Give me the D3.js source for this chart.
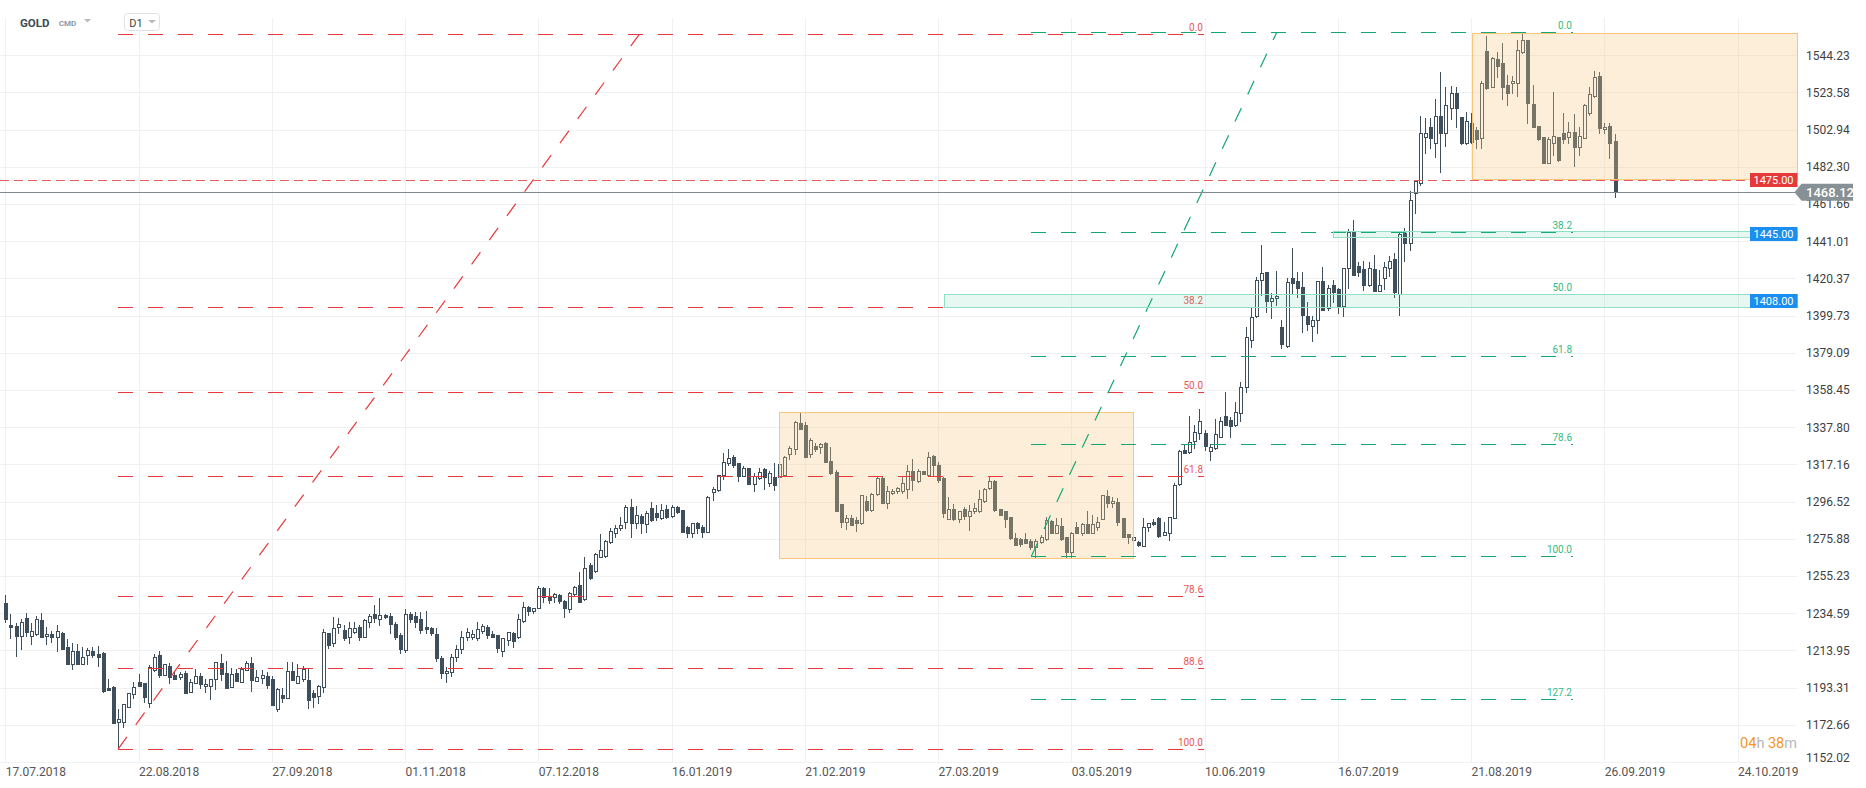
<!DOCTYPE html>
<html>
<head>
<meta charset="utf-8">
<script src="https://cdn.jsdelivr.net/npm/d3@7"></script>
<style>
html, body { margin: 0; padding: 0; background: #fff; }
svg { display: block; font-family: Roboto, "Noto Sans", sans-serif; }
</style>
</head>
<body>
<svg id="goldChart"></svg>
<script>
var width = 1866;
var height = 788;

// daily candles, GOLD D1, index 0 = 17.07.2018
var opens = [
1240.1,1228.0,1227.5,1222.0,1231.7,1222.0,1223.0,1230.8,1221.8,1222.9,
1221.2,1223.4,1215.6,1206.6,1213.6,1206.6,1211.6,1213.6,1212.0,1212.7,
1193.3,1193.5,1174.4,1174.0,1182.3,1189.6,1196.2,1195.7,1184.6,1203.1,
1211.2,1200.1,1205.1,1200.5,1199.4,1201.4,1190.7,1195.7,1199.7,1194.0,
1194.2,1197.9,1206.8,1201.2,1193.8,1201.2,1196.6,1202.9,1206.8,1197.2,
1198.6,1199.7,1197.9,1181.4,1189.2,1187.7,1202.5,1196.1,1198.3,1197.5,
1190.5,1188.8,1193.5,1223.4,1217.9,1226.8,1225.3,1221.2,1224.4,1227.1,
1221.2,1229.5,1234.0,1231.2,1233.6,1233.0,1228.6,1222.5,1214.0,1233.9,
1233.0,1231.2,1227.1,1226.2,1223.0,1209.5,1201.5,1202.0,1210.5,1214.5,
1221.2,1221.2,1220.6,1224.9,1227.1,1222.8,1222.5,1213.5,1219.7,1223.4,
1221.6,1230.4,1238.2,1236.0,1237.3,1248.4,1244.1,1243.8,1244.7,1241.3,
1236.7,1245.1,1250.2,1242.3,1261.3,1258.2,1265.9,1266.3,1274.3,1279.3,
1281.7,1285.4,1293.3,1284.8,1288.5,1283.9,1292.8,1290.0,1287.2,1292.2,
1288.7,1293.3,1291.9,1282.2,1278.9,1284.4,1282.2,1279.8,1301.7,1303.0,
1311.1,1317.7,1321.1,1317.7,1310.9,1315.0,1306.1,1309.4,1314.6,1307.0,
1310.0,1310.4,1311.3,1322.8,1325.5,1340.0,1339.0,1322.8,1327.4,1326.6,
1329.2,1319.2,1313.1,1295.2,1285.4,1287.2,1286.3,1284.4,1297.0,1291.9,
1300.7,1309.8,1295.5,1301.1,1302.4,1302.6,1303.3,1313.7,1308.1,1313.5,
1311.3,1321.8,1316.8,1309.8,1286.7,1292.2,1286.7,1292.2,1288.5,1291.3,
1291.3,1296.8,1303.9,1308.0,1292.2,1291.3,1287.8,1276.1,1275.7,1275.6,
1274.8,1271.1,1274.3,1275.6,1285.9,1279.3,1283.0,1276.7,1268.7,1282.2,
1279.3,1283.9,1279.3,1282.6,1286.7,1299.6,1295.5,1296.1,1287.2,1278.5,
1275.2,1274.3,1272.0,1282.2,1285.4,1287.2,1278.0,1278.9,1287.2,1306.1,
1325.2,1323.9,1330.0,1334.4,1334.4,1324.4,1326.0,1332.5,1343.8,1341.8,
1339.0,1345.5,1359.9,1386.1,1399.7,1419.4,1423.7,1408.0,1409.3,1393.2,
1382.8,1420.4,1418.9,1415.6,1399.6,1394.2,1397.1,1418.9,1403.8,1416.7,
1414.3,1405.0,1426.0,1446.7,1427.2,1425.6,1416.7,1425.6,1413.4,1420.4,
1426.0,1431.1,1411.7,1445.4,1439.8,1467.9,1473.5,1499.0,1504.2,1495.7,
1510.7,1500.9,1515.1,1523.0,1510.1,1495.3,1506.8,1502.7,1498.1,1546.5,
1526.7,1541.9,1539.7,1527.7,1528.6,1528.6,1545.8,1552.6,1517.1,1504.9,
1498.6,1484.6,1495.7,1498.6,1500.9,1498.6,1501.4,1493.5,1498.4,1512.3,
1521.8,1532.7,1503.1,1504.9,1496.6];

var highs = [
1244.5,1234.0,1229.0,1231.4,1234.5,1229.0,1232.8,1234.5,1226.7,1224.7,
1227.9,1224.0,1220.1,1217.9,1217.3,1215.6,1215.5,1216.0,1216.4,1213.1,
1198.0,1194.2,1181.4,1184.2,1190.5,1196.2,1200.7,1196.0,1205.8,1212.0,
1213.4,1206.2,1206.8,1202.1,1202.1,1202.7,1198.1,1203.6,1201.2,1197.9,
1198.3,1207.3,1211.9,1208.1,1204.0,1203.4,1204.9,1208.1,1210.5,1203.1,
1203.1,1202.1,1199.9,1193.1,1192.9,1207.3,1207.3,1206.2,1205.3,1203.8,
1192.0,1194.8,1225.8,1223.8,1232.3,1231.9,1227.9,1229.7,1229.7,1227.9,
1231.2,1234.0,1239.1,1242.8,1233.9,1234.9,1229.5,1223.5,1236.9,1235.4,
1235.0,1235.4,1235.8,1227.1,1226.2,1211.0,1204.5,1212.0,1217.0,1224.9,
1226.2,1225.3,1229.5,1228.4,1228.0,1224.7,1222.5,1221.0,1224.3,1224.0,
1234.0,1241.0,1238.8,1237.6,1249.7,1249.3,1248.4,1246.0,1245.2,1241.9,
1246.5,1249.9,1257.3,1266.0,1262.2,1267.8,1278.5,1275.2,1281.7,1283.5,
1288.2,1294.6,1297.8,1294.1,1289.6,1291.5,1296.5,1294.6,1295.0,1294.6,
1294.6,1294.1,1291.9,1283.0,1284.8,1285.4,1283.5,1299.6,1304.8,1311.1,
1323.3,1325.5,1322.4,1318.1,1316.3,1315.0,1312.2,1315.0,1315.0,1313.5,
1317.8,1317.8,1321.8,1327.4,1341.2,1345.9,1340.9,1331.6,1329.2,1329.2,
1329.8,1326.6,1314.1,1295.2,1289.1,1289.1,1288.2,1300.2,1299.8,1301.5,
1310.7,1310.4,1305.2,1303.3,1304.4,1310.4,1316.8,1320.0,1314.4,1313.5,
1323.9,1322.4,1318.7,1310.0,1298.9,1295.2,1291.3,1293.3,1294.6,1295.5,
1302.9,1303.9,1310.7,1308.5,1292.2,1291.3,1288.2,1278.9,1276.5,1278.9,
1275.6,1275.6,1278.0,1288.2,1286.3,1287.2,1287.2,1276.7,1279.8,1285.4,
1284.8,1291.3,1289.1,1288.2,1300.2,1302.9,1299.3,1298.3,1287.2,1278.5,
1277.4,1274.6,1287.2,1284.8,1286.7,1287.8,1285.4,1288.2,1306.6,1325.2,
1328.5,1344.0,1339.2,1347.7,1336.5,1328.5,1342.5,1343.5,1357.5,1343.2,
1352.0,1362.7,1393.5,1404.7,1420.9,1438.9,1423.7,1412.0,1424.4,1397.3,
1420.7,1437.0,1424.1,1423.8,1407.4,1399.3,1418.9,1426.9,1416.7,1419.5,
1414.8,1425.9,1447.8,1452.8,1429.6,1430.0,1429.3,1433.3,1425.0,1429.6,
1432.8,1434.6,1445.4,1448.1,1468.9,1475.0,1510.5,1509.2,1509.2,1519.9,
1535.1,1526.8,1527.1,1526.4,1510.1,1512.5,1511.9,1504.6,1529.9,1554.9,
1543.4,1546.2,1550.8,1533.2,1532.7,1552.6,1556.3,1552.6,1527.7,1504.9,
1499.0,1498.6,1523.6,1498.6,1511.9,1507.3,1511.6,1504.6,1517.1,1526.4,
1535.6,1535.1,1506.8,1506.8,1500.5];

var lows = [
1229.9,1220.6,1211.0,1215.0,1222.0,1217.5,1222.5,1221.6,1217.3,1218.8,
1213.8,1214.9,1206.6,1203.8,1206.6,1206.6,1206.2,1210.1,1205.5,1191.1,
1192.0,1173.5,1159.2,1171.6,1182.3,1187.3,1194.4,1185.5,1182.7,1202.7,
1199.4,1200.1,1196.0,1197.9,1197.9,1190.1,1190.7,1195.7,1193.3,1191.1,
1187.2,1192.4,1197.5,1192.9,1193.8,1197.0,1196.6,1202.9,1191.4,1197.2,
1195.7,1192.9,1183.7,1180.5,1185.3,1187.7,1197.5,1195.7,1196.8,1182.2,
1182.7,1184.9,1191.1,1215.5,1216.4,1223.4,1219.7,1217.9,1223.4,1219.7,
1221.2,1227.1,1229.9,1228.0,1232.1,1223.8,1220.5,1212.5,1213.0,1229.9,
1227.1,1223.4,1223.4,1222.5,1208.0,1198.5,1196.5,1199.5,1208.0,1212.5,
1219.5,1220.0,1219.7,1223.4,1220.6,1221.2,1213.0,1211.0,1217.0,1216.0,
1220.6,1229.9,1233.6,1234.5,1237.3,1241.0,1240.4,1241.0,1240.4,1232.7,
1235.4,1244.7,1241.0,1241.9,1253.6,1257.6,1265.9,1265.9,1273.3,1277.0,
1280.8,1281.7,1276.7,1281.7,1279.3,1279.8,1285.7,1286.3,1286.7,1287.2,
1287.8,1290.4,1279.8,1276.7,1276.7,1278.9,1276.7,1279.8,1297.4,1302.6,
1308.9,1316.8,1315.5,1308.1,1310.7,1306.1,1302.6,1308.9,1303.3,1305.2,
1302.9,1304.8,1310.7,1320.2,1322.8,1336.6,1321.1,1321.4,1324.6,1323.3,
1318.3,1311.8,1291.3,1282.6,1281.1,1283.5,1280.2,1284.1,1291.3,1291.3,
1300.2,1295.5,1292.8,1300.5,1301.5,1301.5,1298.3,1303.0,1307.6,1311.8,
1310.7,1310.7,1307.6,1288.2,1286.7,1286.3,1285.4,1286.9,1280.8,1290.4,
1290.6,1296.5,1303.3,1291.5,1289.1,1282.2,1275.7,1272.4,1272.0,1273.3,
1270.2,1265.9,1273.3,1275.2,1278.9,1278.9,1275.2,1265.9,1265.9,1279.3,
1278.0,1279.3,1279.3,1280.8,1286.7,1293.7,1293.7,1283.5,1277.1,1273.3,
1273.3,1272.0,1272.0,1280.4,1283.5,1277.1,1278.0,1275.2,1287.2,1305.7,
1323.3,1323.3,1326.0,1331.5,1325.0,1319.6,1325.6,1332.1,1338.8,1332.5,
1338.5,1341.4,1357.5,1382.5,1399.1,1411.1,1401.9,1398.5,1405.6,1381.5,
1382.5,1411.7,1410.2,1390.5,1391.5,1385.8,1389.9,1402.8,1402.8,1407.4,
1401.0,1399.5,1414.8,1422.2,1421.7,1414.0,1416.1,1413.6,1413.4,1414.3,
1421.7,1410.2,1400.0,1430.2,1436.1,1456.5,1472.2,1490.1,1492.5,1487.5,
1479.6,1494.0,1508.6,1504.2,1494.9,1494.9,1495.7,1492.5,1492.5,1525.3,
1526.4,1531.9,1519.7,1516.6,1523.4,1521.6,1545.2,1506.4,1504.6,1497.2,
1484.6,1484.6,1488.8,1485.7,1495.3,1495.3,1482.9,1488.8,1498.1,1511.0,
1520.8,1500.9,1500.9,1487.0,1465.7];

var closes = [
1231.2,1226.8,1222.0,1229.7,1224.3,1224.7,1231.2,1221.6,1222.9,1221.6,
1224.5,1214.9,1206.6,1213.4,1206.6,1210.3,1214.2,1211.6,1210.5,1191.6,
1192.0,1173.8,1175.7,1184.2,1190.1,1193.5,1194.4,1188.3,1204.9,1210.1,
1200.1,1206.2,1199.0,1198.1,1200.9,1190.3,1196.2,1199.7,1195.1,1195.3,
1197.9,1207.3,1200.7,1192.9,1200.7,1197.0,1203.6,1206.8,1197.5,1199.0,
1200.3,1194.9,1183.7,1192.4,1187.7,1202.5,1197.5,1199.7,1203.8,1186.4,
1188.3,1194.2,1224.2,1217.0,1226.2,1228.4,1221.0,1226.2,1226.6,1221.6,
1230.8,1233.2,1231.7,1233.6,1232.3,1228.6,1221.6,1214.5,1234.1,1231.4,
1229.9,1225.3,1225.6,1223.4,1209.5,1201.5,1202.5,1210.5,1214.5,1221.2,
1224.1,1222.8,1225.6,1227.5,1222.5,1221.6,1215.5,1220.6,1224.0,1219.0,
1231.2,1237.8,1236.0,1237.3,1248.4,1243.4,1241.9,1245.2,1241.5,1237.3,
1245.6,1248.9,1241.0,1259.5,1254.3,1267.4,1269.7,1274.6,1280.2,1282.0,
1283.3,1293.7,1284.4,1289.1,1284.4,1290.0,1286.3,1287.8,1291.9,1288.2,
1293.3,1290.9,1279.8,1279.3,1284.4,1281.7,1279.8,1299.3,1303.5,1311.1,
1318.3,1320.5,1316.8,1310.9,1315.0,1306.1,1310.7,1313.1,1310.4,1312.2,
1305.7,1317.4,1321.1,1326.1,1340.9,1336.8,1321.1,1330.7,1325.7,1328.5,
1318.7,1312.2,1291.5,1285.4,1287.2,1283.5,1284.4,1300.2,1291.9,1300.5,
1309.8,1295.5,1302.6,1302.6,1303.9,1306.7,1313.7,1308.5,1313.7,1311.8,
1321.5,1316.8,1308.5,1290.4,1292.2,1286.7,1291.3,1288.5,1291.3,1292.8,
1297.8,1303.3,1308.0,1291.9,1289.1,1286.7,1276.1,1272.4,1272.8,1273.7,
1271.1,1274.8,1277.1,1286.3,1279.3,1283.5,1275.6,1268.7,1279.3,1279.3,
1283.9,1279.3,1283.9,1285.4,1300.2,1295.9,1297.0,1285.4,1277.1,1277.1,
1277.1,1272.4,1282.6,1284.4,1284.1,1277.4,1279.5,1287.8,1305.7,1324.8,
1323.7,1329.8,1335.0,1341.0,1327.1,1326.8,1334.0,1341.0,1339.2,1338.7,
1346.0,1359.9,1387.6,1399.1,1419.4,1423.2,1408.0,1409.3,1410.8,1383.7,
1418.2,1417.6,1414.8,1400.0,1394.8,1397.3,1418.7,1402.8,1414.8,1413.0,
1405.0,1425.9,1446.0,1422.2,1424.1,1416.7,1426.0,1413.6,1416.7,1426.5,
1430.2,1412.6,1445.0,1440.2,1463.9,1474.4,1500.9,1500.9,1498.1,1510.7,
1500.9,1516.6,1523.0,1514.7,1495.3,1507.7,1496.2,1497.5,1528.6,1525.8,
1542.5,1538.4,1526.7,1523.4,1529.9,1547.1,1552.6,1517.9,1504.6,1497.5,
1484.6,1497.5,1499.4,1486.1,1497.5,1501.4,1493.1,1499.4,1516.6,1522.5,
1531.9,1503.6,1504.6,1495.7,1468.12];

// axis ticks
var dateTickIdx = [0, 26, 52, 78, 104, 130, 156, 182, 208, 234, 260, 286, 312, 338];
var dateLabels = ["17.07.2018", "22.08.2018", "27.09.2018", "01.11.2018", "07.12.2018", "16.01.2019",
                  "21.02.2019", "27.03.2019", "03.05.2019", "10.06.2019", "16.07.2019", "21.08.2019",
                  "26.09.2019", "24.10.2019"];
var priceTicks = [1152.02, 1172.66, 1193.31, 1213.95, 1234.59, 1255.23, 1275.88, 1296.52, 1317.16, 1337.80,
                  1358.45, 1379.09, 1399.73, 1420.37, 1441.01, 1461.66, 1482.30, 1502.94, 1523.58, 1544.23];

// fibonacci retracements: [low bar, low price, high bar, high price, end bar]
var redFib = [22, 1159.2, 123.7, 1555.8, 233.9];
var redFibLevels = [0, 38.2, 50, 61.8, 78.6, 88.6, 100];
var greenFib = [200.2, 1266.2, 248.1, 1557.0, 305.9];
var greenFibLevels = [0, 38.2, 50, 61.8, 78.6, 100, 127.2];

// rectangles (end bar null = to the right edge)
var boxStart = [151.0, 286.2];
var boxEnd = [220.0, null];
var boxTop = [1346.1, 1556.3];
var boxBottom = [1265.1, 1475.3];

var zoneStart = [259.1, 183.2];
var zoneTop = [1446.7, 1411.6];
var zoneBottom = [1443.4, 1404.4];
var zoneLevel = [1445.00, 1408.00];

var alertLevel = 1475.00;
var lastPrice = 1468.12;

var plotRight = 1797, plotTop = 18, plotBottom = 762;
var candleColor = "#3e4f5b";
var red = "#e8383b", green = "#12a870";

var svg = d3.select("#goldChart")
    .attr("width", width)
    .attr("height", height);

svg.append("rect").attr("width", width).attr("height", height).attr("fill", "#fff");

var x = d3.scaleLinear().domain([0, 338]).range([5.3, 1737.6]);
var y = d3.scaleLinear().domain([1152.02, 1544.23]).range([762, 55.2]);
var iRight = x.invert(plotRight);

function px(v) { return Math.round(v) + 0.5; }

//////////////////////////GRID//////////////////////////
var grid = svg.append("g").attr("shape-rendering", "crispEdges");
grid.selectAll(".hgrid")
    .data(priceTicks)
    .enter()
    .append("line")
    .attr("class", "hgrid")
    .attr("x1", 0)
    .attr("x2", plotRight)
    .attr("y1", function(d) { return px(y(d)); })
    .attr("y2", function(d) { return px(y(d)); })
    .attr("stroke", "#eff1f2");

grid.selectAll(".vgrid")
    .data(dateTickIdx)
    .enter()
    .append("line")
    .attr("class", "vgrid")
    .attr("x1", function(d) { return px(x(d)); })
    .attr("x2", function(d) { return px(x(d)); })
    .attr("y1", plotTop)
    .attr("y2", plotBottom)
    .attr("stroke", "#eff1f2");

//////////////////////////CANDLES//////////////////////////
var candles = closes.map(function(c, i) {
    return {i: i, o: opens[i], h: highs[i], l: lows[i], c: c};
});

var candleG = svg.append("g")
    .attr("shape-rendering", "crispEdges")
    .selectAll("g")
    .data(candles)
    .enter()
    .append("g");

candleG.append("line")
    .attr("x1", function(d) { return px(x(d.i)); })
    .attr("x2", function(d) { return px(x(d.i)); })
    .attr("y1", function(d) { return Math.round(y(d.h)); })
    .attr("y2", function(d) { return Math.round(y(d.l)) + 1; })
    .attr("stroke", candleColor);

candleG.append("rect")
    .attr("x", function(d) { return px(x(d.i)) - 1.5; })
    .attr("width", 3)
    .attr("y", function(d) { return px(y(Math.max(d.o, d.c))); })
    .attr("height", function(d) {
        return Math.max(0.5, Math.round(y(Math.min(d.o, d.c))) - Math.round(y(Math.max(d.o, d.c))));
    })
    .attr("fill", function(d) { return d.c >= d.o ? "#fff" : candleColor; })
    .attr("stroke", candleColor);

//////////////////////////BOXES//////////////////////////
svg.append("g").selectAll("rect")
    .data(boxStart)
    .enter()
    .append("rect")
    .attr("x", function(d) { return px(x(d)); })
    .attr("y", function(d, i) { return px(y(boxTop[i])); })
    .attr("width", function(d, i) { return Math.round(x(boxEnd[i] === null ? iRight : boxEnd[i])) - Math.round(x(d)); })
    .attr("height", function(d, i) { return Math.round(y(boxBottom[i])) - Math.round(y(boxTop[i])); })
    .attr("fill", "rgba(247,200,132,0.3)")
    .attr("stroke", "#f7c67c");

//////////////////////////FIBONACCI//////////////////////////
function drawFib(fib, levels, color, labelColor) {
    var g = svg.append("g");
    var lo = fib[1], hi = fib[3];
    var x0 = Math.round(x(fib[0])), x1 = Math.round(x(fib[4]));
    levels.forEach(function(lv) {
        var p = hi - lv / 100 * (hi - lo);
        var yy = px(y(p));
        g.append("line")
            .attr("x1", x0).attr("x2", x1)
            .attr("y1", yy).attr("y2", yy)
            .attr("stroke", color)
            .attr("shape-rendering", "crispEdges")
            .attr("stroke-dasharray", "15,15");
        g.append("text")
            .text(lv.toFixed(1))
            .attr("x", x1 - 1)
            .attr("y", yy - 4)
            .attr("text-anchor", "end")
            .attr("font-size", "10px")
            .attr("fill", labelColor);
    });
    g.append("line")
        .attr("x1", x(fib[0])).attr("y1", y(lo))
        .attr("x2", x(fib[2])).attr("y2", y(hi))
        .attr("stroke", color)
        .attr("stroke-width", 1.2)
        .attr("stroke-dasharray", "15,15");
}
drawFib(redFib, redFibLevels, red, "#ec5558");
drawFib(greenFib, greenFibLevels, green, "#33bb86");

//////////////////////////ZONES//////////////////////////
svg.append("g").selectAll("rect")
    .data(zoneStart)
    .enter()
    .append("rect")
    .attr("x", function(d) { return px(x(d)); })
    .attr("y", function(d, i) { return px(y(zoneTop[i])); })
    .attr("width", function(d) { return plotRight - Math.round(x(d)); })
    .attr("height", function(d, i) { return Math.round(y(zoneBottom[i])) - Math.round(y(zoneTop[i])); })
    .attr("fill", "rgba(64,200,150,0.13)")
    .attr("stroke", "#93dfc3");

// alert line and last price line
svg.append("line")
    .attr("x1", 0).attr("x2", 1750)
    .attr("y1", px(y(alertLevel))).attr("y2", px(y(alertLevel)))
    .attr("stroke", "#e95c5c")
    .attr("shape-rendering", "crispEdges")
    .attr("stroke-dasharray", "9,5");

svg.append("line")
    .attr("x1", 0).attr("x2", plotRight)
    .attr("y1", px(y(lastPrice))).attr("y2", px(y(lastPrice)))
    .attr("shape-rendering", "crispEdges")
    .attr("stroke", "#7f898e");

//////////////////////////AXES//////////////////////////
var yAxis = svg.append("g")
    .attr("transform", "translate(" + plotRight + ",0)")
    .call(d3.axisRight(y).tickValues(priceTicks).tickFormat(d3.format(".2f")).tickSize(0).tickPadding(9));
yAxis.select(".domain").remove();
yAxis.selectAll("text")
    .attr("font-size", "12px")
    .attr("font-family", "Roboto")
    .attr("fill", "#3f3f3f")
    .attr("dy", function(d) { return d === priceTicks[0] ? "-0.08em" : "0.32em"; });

var xAxis = svg.append("g")
    .attr("transform", "translate(0," + plotBottom + ")")
    .call(d3.axisBottom(x).tickValues(dateTickIdx).tickFormat(function(d, i) { return dateLabels[i]; }).tickSize(0).tickPadding(5));
xAxis.select(".domain").remove();
xAxis.selectAll("text")
    .attr("text-anchor", "start")
    .attr("font-size", "12px")
    .attr("font-family", "Roboto")
    .attr("fill", "#555");

//////////////////////////TAGS//////////////////////////
function tag(price, color) {
    var cy = y(price);
    svg.append("rect")
        .attr("x", 1750).attr("y", Math.round(cy - 7))
        .attr("width", 47.5).attr("height", 14)
        .attr("fill", color);
    svg.append("text")
        .text(price.toFixed(2))
        .attr("x", 1773.5).attr("y", Math.round(cy - 7) + 11)
        .attr("text-anchor", "middle")
        .attr("font-size", "11px")
        .attr("fill", "#fff");
}
tag(alertLevel, "#e53a3a");
zoneLevel.forEach(function(p) { tag(p, "#1b8ef2"); });

var ly = y(lastPrice);
svg.append("path")
    .attr("d", "M1794.5," + ly + "L1801.5," + (ly - 8.5) + "L1853," + (ly - 8.5) + "L1853," + (ly + 8.5) + "L1801.5," + (ly + 8.5) + "Z")
    .attr("fill", "#879094");
svg.append("text")
    .text(lastPrice.toFixed(2))
    .attr("x", 1806).attr("y", ly + 4.5)
    .attr("font-size", "13px")
    .attr("font-weight", 500)
    .attr("fill", "#fff");

//////////////////////////HEADER//////////////////////////
svg.append("text").text("GOLD")
    .attr("x", 20).attr("y", 26.7)
    .attr("font-size", "11.5px").attr("font-weight", 700)
    .attr("fill", "#3b4a54");
svg.append("text").text("CMD")
    .attr("x", 58.7).attr("y", 26)
    .attr("font-size", "8px").attr("font-weight", 700)
    .attr("fill", "#8d9aa4");
svg.append("path").attr("d", "M84,19L91,19L87.5,22.5Z").attr("fill", "#b4bcc2");

svg.append("rect")
    .attr("x", 124.5).attr("y", 13.5).attr("width", 35).attr("height", 17).attr("rx", 3)
    .attr("fill", "#fff").attr("stroke", "#dfe3e6");
svg.append("text").text("D1")
    .attr("x", 129.3).attr("y", 26.5)
    .attr("font-size", "11px")
    .attr("fill", "#444");
svg.append("path").attr("d", "M148,20L156,20L152,23.5Z").attr("fill", "#b4bcc2");

// candle countdown
var timer = svg.append("text")
    .attr("x", plotRight).attr("y", 748)
    .attr("text-anchor", "end")
    .attr("font-size", "14.5px");
timer.append("tspan").text("04").attr("fill", "#f7951e");
timer.append("tspan").text("h ").attr("fill", "#b5b9bc");
timer.append("tspan").text("38").attr("fill", "#f7951e");
timer.append("tspan").text("m").attr("fill", "#b5b9bc");
</script>
</body>
</html>
